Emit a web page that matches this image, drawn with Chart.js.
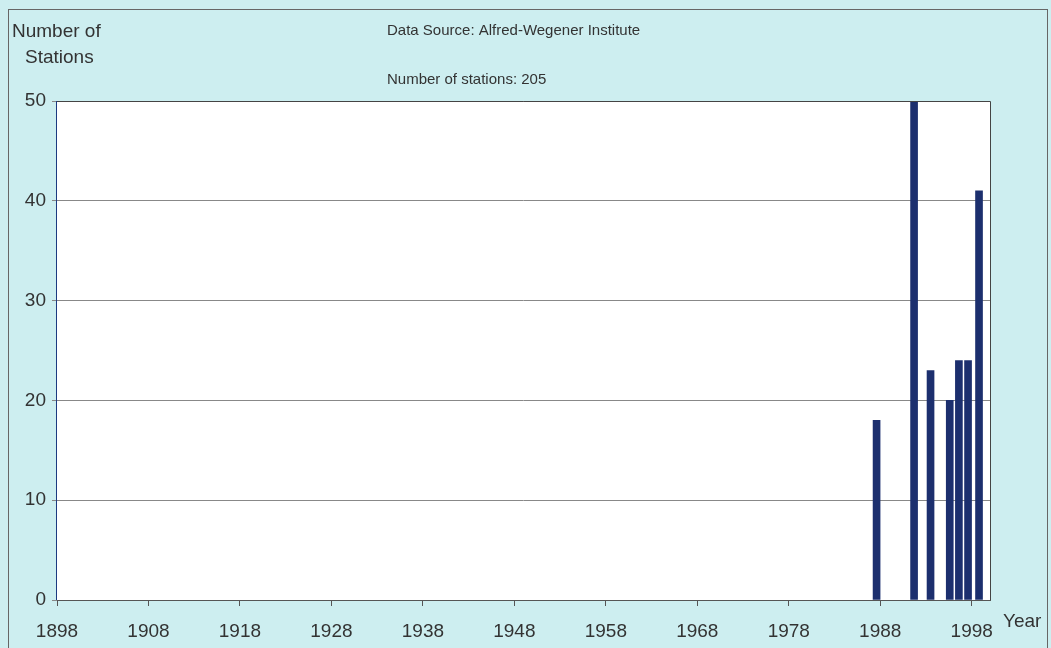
<!DOCTYPE html>
<html>
<head>
<meta charset="utf-8">
<script src="https://cdn.jsdelivr.net/npm/chart.js@4.4.0/dist/chart.umd.min.js"></script>
<style>
  html, body { margin: 0; padding: 0; background: #cdeef0; }
  #wrap { width: 1051px; height: 648px; position: relative; }
</style>
</head>
<body>
<div id="wrap"><canvas id="myChart" width="1051" height="648"></canvas></div>
<script>
// bar positions (year on the x axis) and station counts
const barYears = [1987.6, 1991.7, 1993.5, 1995.6, 1996.6, 1997.6, 1998.8];
const stationCounts = [18, 50, 23, 20, 24, 24, 41];
const yearTicks = [1898, 1908, 1918, 1928, 1938, 1948, 1958, 1968, 1978, 1988, 1998];
const countTicks = [0, 10, 20, 30, 40, 50];

const FONT = '"Liberation Sans", Arial, sans-serif';

const bgPlugin = {
    id: 'bgPlugin',
    beforeDraw(chart) {
        const { ctx, chartArea: a } = chart;
        ctx.save();
        ctx.fillStyle = '#cdeef0';
        ctx.fillRect(0, 0, chart.width, chart.height);
        ctx.strokeStyle = '#666';
        ctx.lineWidth = 1;
        ctx.strokeRect(8.5, 9.5, 1039, 660);
        ctx.fillStyle = '#ffffff';
        ctx.fillRect(a.left, a.top, a.right - a.left, a.bottom - a.top);
        ctx.restore();
    },
    afterDraw(chart) {
        const { ctx, chartArea: a } = chart;
        ctx.save();
        // plot frame
        ctx.strokeStyle = '#444';
        ctx.lineWidth = 1;
        ctx.beginPath();
        ctx.moveTo(a.left, a.top + 0.5);
        ctx.lineTo(a.right + 0.5, a.top + 0.5);
        ctx.lineTo(a.right + 0.5, a.bottom);
        ctx.stroke();
        ctx.strokeStyle = '#1c3a80';
        ctx.beginPath();
        ctx.moveTo(a.left - 0.5, a.top);
        ctx.lineTo(a.left - 0.5, a.bottom);
        ctx.stroke();
        // texts
        ctx.fillStyle = '#333';
        ctx.textBaseline = 'middle';
        ctx.font = '19px ' + FONT;
        ctx.fillText('Number of', 12, 32);
        ctx.fillText('Stations', 25, 58);
        ctx.font = '15px ' + FONT;
        ctx.fillText('Data Source: Alfred-Wegener Institute', 387, 31);
        ctx.fillText('Number of stations: 205', 387, 80);
        ctx.font = '19px ' + FONT;
        ctx.fillText('Year', 1003, 622);
        ctx.restore();
    }
};

new Chart(document.getElementById('myChart'), {
    type: 'bar',
    data: {
        datasets: [{
            label: 'Stations',
            data: barYears.map((x, i) => ({ x: x, y: stationCounts[i] })),
            backgroundColor: '#1c2f6e',
            borderWidth: 0,
            barThickness: 7
        }]
    },
    options: {
        responsive: false,
        animation: false,
        layout: { padding: { top: 101, right: 61, bottom: 0, left: 0 } },
        plugins: { legend: { display: false }, tooltip: { enabled: false } },
        scales: {
            x: {
                type: 'linear',
                offset: false,
                min: 1898,
                max: 2000,
                afterBuildTicks(scale) {
                    scale.ticks = yearTicks.map(v => ({ value: v }));
                },
                grid: { display: true, drawOnChartArea: false, drawTicks: true, tickLength: 6, color: '#555', offset: false },
                border: { color: '#555' },
                ticks: {
                    color: '#333',
                    font: { size: 19, family: FONT },
                    maxRotation: 0,
                    autoSkip: false,
                    padding: 14,
                    callback: v => String(v)
                },
                afterFit(scale) { scale.height = 48; }
            },
            y: {
                min: 0,
                max: 50,
                afterBuildTicks(scale) {
                    scale.ticks = countTicks.map(v => ({ value: v }));
                },
                grid: {
                    color: '#888',
                    drawTicks: true,
                    tickLength: 5
                },
                border: { display: false },
                ticks: {
                    color: '#333',
                    font: { size: 19, family: FONT },
                    padding: 6
                },
                afterFit(scale) { scale.width = 57; }
            }
        }
    },
    plugins: [bgPlugin]
});
</script>
</body>
</html>
